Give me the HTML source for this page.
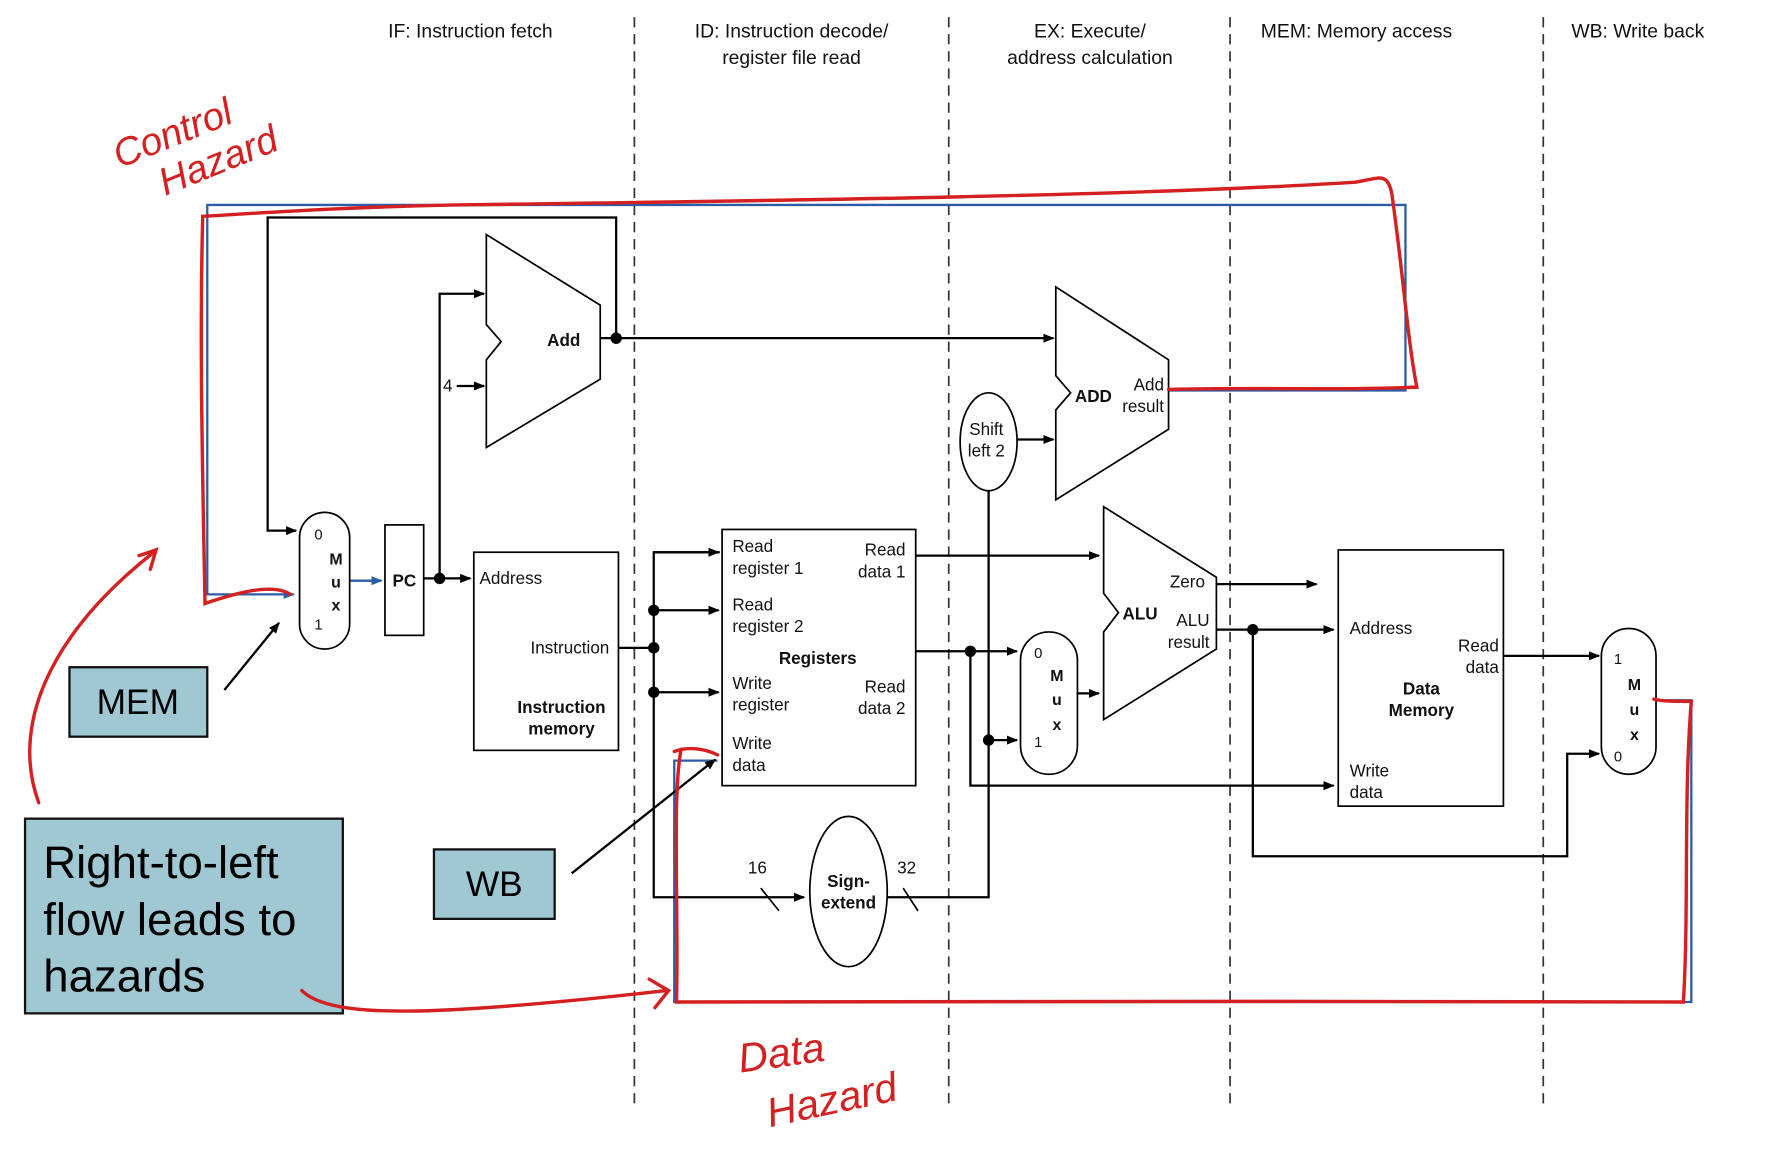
<!DOCTYPE html>
<html><head><meta charset="utf-8"><style>
html,body{margin:0;padding:0;background:#fff;}
svg{display:block;}
text{font-family:"Liberation Sans",sans-serif;}
</style></head><body>
<svg width="1787" height="1150" viewBox="0 0 1569 1010" preserveAspectRatio="none" xmlns="http://www.w3.org/2000/svg">
<defs>
<marker id="a" markerWidth="10" markerHeight="8" refX="9" refY="4" orient="auto" markerUnits="userSpaceOnUse"><path d="M0,0 L10,4 L0,8 Z" fill="#000"/></marker>
<marker id="ab" markerWidth="10" markerHeight="8" refX="9" refY="4" orient="auto" markerUnits="userSpaceOnUse"><path d="M0,0 L10,4 L0,8 Z" fill="#2a5ca8"/></marker>
</defs>
<rect width="1569" height="1010" fill="#fff"/>
<g stroke="#333" stroke-width="1.5" stroke-dasharray="9,6">
<line x1="557" y1="15" x2="557" y2="970"/><line x1="833" y1="15" x2="833" y2="970"/>
<line x1="1080" y1="15" x2="1080" y2="970"/><line x1="1355" y1="15" x2="1355" y2="970"/>
</g>
<g font-size="17" fill="#111" text-anchor="middle">
<text x="413" y="33">IF: Instruction fetch</text>
<text x="695" y="33">ID: Instruction decode/</text><text x="695" y="56">register file read</text>
<text x="957" y="33">EX: Execute/</text><text x="957" y="56">address calculation</text>
<text x="1191" y="33">MEM: Memory access</text>
<text x="1438" y="33">WB: Write back</text>
</g>
<g stroke="#2a5ca8" stroke-width="2" fill="none">
<polyline points="1026,343 1234,343 1234,180 182,180 182,522 258,522" marker-end="url(#ab)"/>
<polyline points="1454,615 1485,615 1485,880 592,880 592,668 630,668"/>
<line x1="307" y1="510" x2="335" y2="510" marker-end="url(#ab)"/>
</g>
<g stroke="#000" stroke-width="2" fill="none">
<polyline points="541,297 541,191 235,191 235,466 260,466" marker-end="url(#a)"/>
<line x1="527" y1="297" x2="925" y2="297" marker-end="url(#a)"/>
<line x1="372" y1="508" x2="413" y2="508" marker-end="url(#a)"/>
<polyline points="386,508 386,258 425,258" marker-end="url(#a)"/>
<line x1="401" y1="339" x2="425" y2="339" marker-end="url(#a)"/>
<line x1="543" y1="569" x2="574" y2="569"/>
<polyline points="632,485 574,485 574,788 706,788" marker-end="url(#a)"/>
<line x1="574" y1="485" x2="631" y2="485" marker-end="url(#a)"/>
<line x1="574" y1="536" x2="631" y2="536" marker-end="url(#a)"/>
<line x1="574" y1="608" x2="631" y2="608" marker-end="url(#a)"/>
<polyline points="779,788 868,788 868,431"/>
<line x1="893" y1="386" x2="925" y2="386" marker-end="url(#a)"/>
<line x1="804" y1="488" x2="965" y2="488" marker-end="url(#a)"/>
<line x1="804" y1="572" x2="893" y2="572" marker-end="url(#a)"/>
<polyline points="852,572 852,690 1171,690" marker-end="url(#a)"/>
<line x1="868" y1="650" x2="893" y2="650" marker-end="url(#a)"/>
<line x1="946" y1="609" x2="965" y2="609" marker-end="url(#a)"/>
<line x1="1068" y1="513" x2="1156" y2="513" marker-end="url(#a)"/>
<line x1="1068" y1="553" x2="1171" y2="553" marker-end="url(#a)"/>
<polyline points="1100,553 1100,752 1376,752 1376,662 1404,662" marker-end="url(#a)"/>
<line x1="1320" y1="576" x2="1404" y2="576" marker-end="url(#a)"/>
<line x1="668" y1="780" x2="684" y2="800" stroke-width="1.5"/>
<line x1="793" y1="780" x2="806" y2="800" stroke-width="1.5"/>
<line x1="197" y1="606" x2="245" y2="547" stroke-width="2" marker-end="url(#a)"/>
<line x1="502" y1="767" x2="628" y2="667" stroke-width="2" marker-end="url(#a)"/>
</g>
<g fill="#000">
<circle cx="541" cy="297" r="5"/><circle cx="386" cy="508" r="5"/>
<circle cx="574" cy="536" r="5"/><circle cx="574" cy="569" r="5"/><circle cx="574" cy="608" r="5"/>
<circle cx="852" cy="572" r="5"/><circle cx="868" cy="650" r="5"/><circle cx="1100" cy="553" r="5"/>
</g>
<g stroke="#000" stroke-width="1.5" fill="#fff">
<polygon points="427,206 527,268 527,333 427,393 427,316 440,300 427,285"/>
<polygon points="927,252 1026,316 1026,377 927,439 927,360 940,345 927,330"/>
<polygon points="969,445 1068,507 1068,570 969,632 969,555 982,538 969,521"/>
<ellipse cx="868" cy="388" rx="25" ry="43"/>
<rect x="263" y="450" width="44" height="120" rx="22"/>
<rect x="338" y="461" width="34" height="97"/>
<rect x="416" y="485" width="127" height="174"/>
<rect x="634" y="465" width="170" height="225"/>
<ellipse cx="745" cy="783" rx="34" ry="66"/>
<rect x="896" y="555" width="50" height="125" rx="25"/>
<rect x="1175" y="483" width="145" height="225"/>
<rect x="1406" y="552" width="48" height="128" rx="24"/>
</g>
<g font-size="15" fill="#111">
<text x="495" y="304" font-weight="bold" text-anchor="middle">Add</text>
<text x="389" y="344">4</text>
<text x="960" y="353" font-weight="bold" text-anchor="middle">ADD</text>
<text x="1022" y="343" text-anchor="end">Add</text><text x="1022" y="362" text-anchor="end">result</text>
<text x="866" y="382" text-anchor="middle">Shift</text><text x="866" y="401" text-anchor="middle">left 2</text>
<text x="276" y="474" font-size="13">0</text><text x="276" y="553" font-size="13">1</text>
<g font-weight="bold" font-size="14" text-anchor="middle"><text x="295" y="496">M</text><text x="295" y="516">u</text><text x="295" y="536">x</text></g>
<text x="355" y="515" font-weight="bold" text-anchor="middle">PC</text>
<text x="421" y="513">Address</text>
<text x="535" y="574" text-anchor="end">Instruction</text>
<text x="493" y="626" font-weight="bold" text-anchor="middle">Instruction</text><text x="493" y="645" font-weight="bold" text-anchor="middle">memory</text>
<text x="643" y="485">Read</text><text x="643" y="504">register 1</text>
<text x="643" y="536">Read</text><text x="643" y="555">register 2</text>
<text x="643" y="605">Write</text><text x="643" y="624">register</text>
<text x="643" y="658">Write</text><text x="643" y="677">data</text>
<text x="795" y="488" text-anchor="end">Read</text><text x="795" y="507" text-anchor="end">data 1</text>
<text x="795" y="608" text-anchor="end">Read</text><text x="795" y="627" text-anchor="end">data 2</text>
<text x="718" y="583" font-weight="bold" text-anchor="middle">Registers</text>
<text x="745" y="779" font-weight="bold" text-anchor="middle">Sign-</text><text x="745" y="798" font-weight="bold" text-anchor="middle">extend</text>
<text x="665" y="767" text-anchor="middle">16</text><text x="796" y="767" text-anchor="middle">32</text>
<text x="908" y="578" font-size="13">0</text><text x="908" y="656" font-size="13">1</text>
<g font-weight="bold" font-size="14" text-anchor="middle"><text x="928" y="598">M</text><text x="928" y="619">u</text><text x="928" y="641">x</text></g>
<text x="1001" y="544" font-weight="bold" text-anchor="middle">ALU</text>
<text x="1058" y="516" text-anchor="end">Zero</text>
<text x="1062" y="550" text-anchor="end">ALU</text><text x="1062" y="569" text-anchor="end">result</text>
<text x="1185" y="557">Address</text>
<text x="1316" y="572" text-anchor="end">Read</text><text x="1316" y="591" text-anchor="end">data</text>
<text x="1248" y="610" font-weight="bold" text-anchor="middle">Data</text><text x="1248" y="629" font-weight="bold" text-anchor="middle">Memory</text>
<text x="1185" y="682">Write</text><text x="1185" y="701">data</text>
<text x="1417" y="583" font-size="13">1</text><text x="1417" y="669" font-size="13">0</text>
<g font-weight="bold" font-size="14" text-anchor="middle"><text x="1435" y="606">M</text><text x="1435" y="628">u</text><text x="1435" y="650">x</text></g>
</g>
<g fill="#a0c8d2" stroke="#111" stroke-width="2">
<rect x="61" y="586" width="121" height="61"/>
<rect x="381" y="746" width="106" height="61"/>
<rect x="22" y="719" width="279" height="171"/>
</g>
<g fill="#000" font-size="31">
<text x="121" y="627" text-anchor="middle">MEM</text>
<text x="434" y="787" text-anchor="middle">WB</text>
<text x="38" y="771" font-size="40">Right-to-left</text>
<text x="38" y="821" font-size="40">flow leads to</text>
<text x="38" y="871" font-size="40">hazards</text>
</g>
<g stroke="#d42020" stroke-width="3" fill="none" stroke-linecap="round">
<path d="M1026,342 C1100,340 1180,343 1244,340 C1236,300 1232,240 1222,170 C1218,150 1210,157 1190,160 C1000,172 700,176 400,180 C300,182 230,187 178,190 C175,300 178,420 180,530 C210,520 240,512 255,522"/>
<path d="M592,660 C605,655 620,658 630,663 M598,658 C590,700 596,800 594,880 C800,878 1200,880 1478,880 C1483,800 1478,700 1485,616 C1470,616 1460,616 1452,614"/>
<path d="M34,705 C10,640 40,560 135,485 M122,488 L137,483 L132,500"/>
<path d="M265,870 C290,895 380,893 585,870 M570,860 L587,870 L575,885"/>
</g>
<g fill="#d42020" font-family="'DejaVu Sans',sans-serif" font-style="italic">
<text x="105" y="148" font-size="34" transform="rotate(-22 105 148)">Control</text>
<text x="145" y="172" font-size="34" transform="rotate(-22 145 172)">Hazard</text>
<text x="650" y="942" font-size="36" transform="rotate(-8 650 942)">Data</text>
<text x="676" y="990" font-size="36" transform="rotate(-12 676 990)">Hazard</text>
</g>
</svg>
</body></html>
